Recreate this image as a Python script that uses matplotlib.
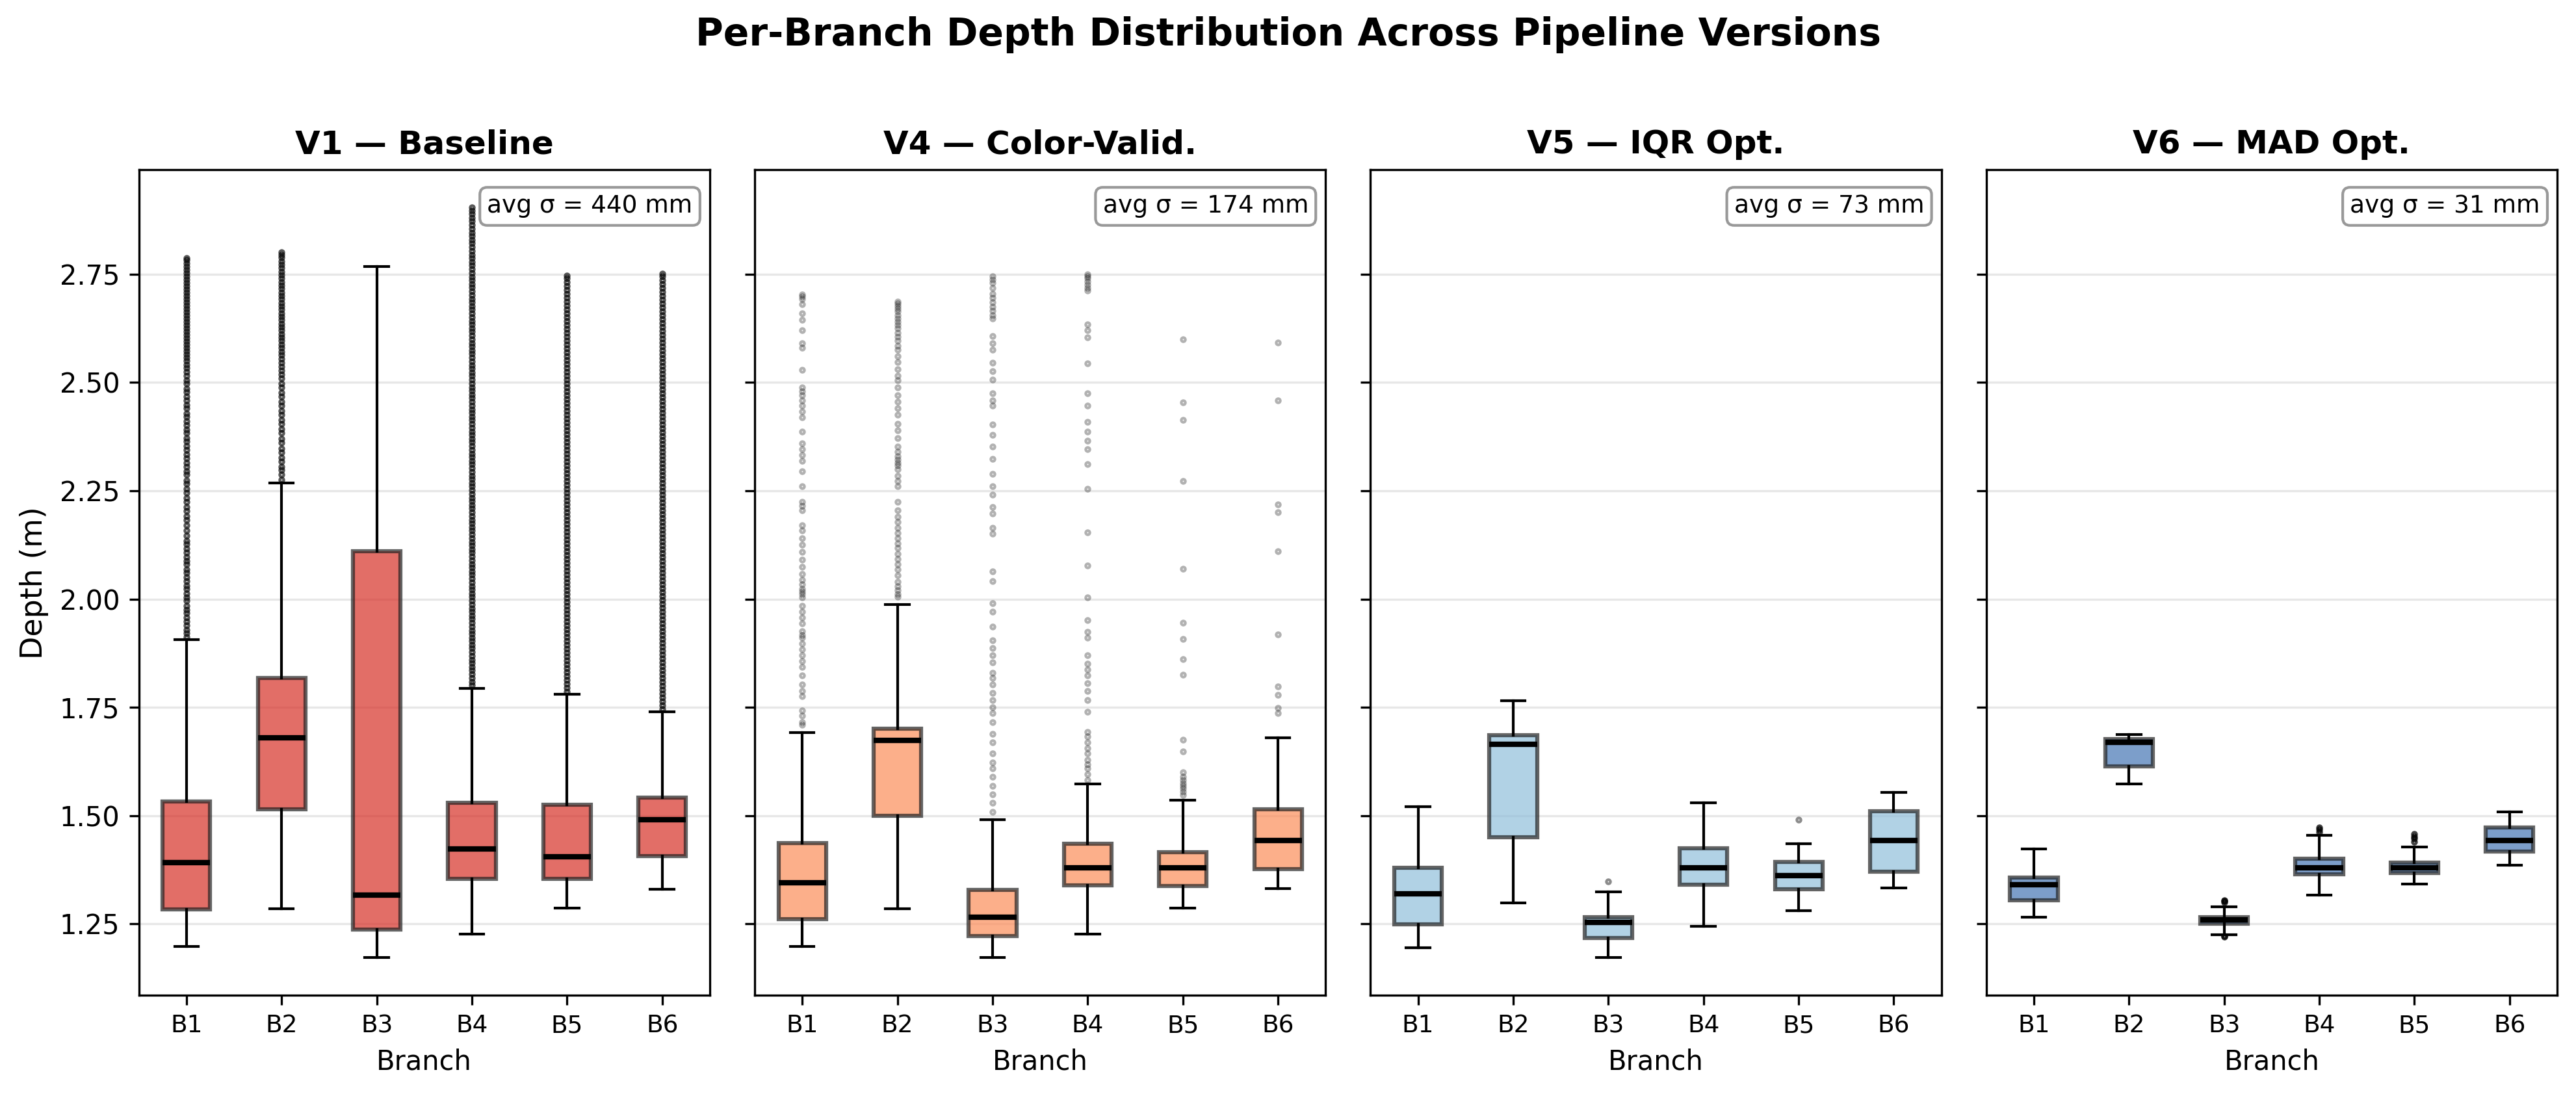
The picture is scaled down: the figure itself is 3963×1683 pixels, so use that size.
import matplotlib
matplotlib.use("Agg")
import matplotlib.pyplot as plt

# ---------------- data ----------------
branches = ["B1", "B2", "B3", "B4", "B5", "B6"]
versions = ["V1 — Baseline", "V4 — Color-Valid.", "V5 — IQR Opt.", "V6 — MAD Opt."]
avg_sigma_mm = [440, 174, 73, 31]
colors = ["#d73027", "#fc8d59", "#91bfdb", "#4575b4"]

# per version: lists over branches B1..B6
v1_whislo = [1.198, 1.285, 1.172, 1.227, 1.286, 1.330]
v1_q1     = [1.283, 1.515, 1.237, 1.354, 1.354, 1.407]
v1_med    = [1.391, 1.680, 1.317, 1.423, 1.405, 1.490]
v1_q3     = [1.533, 1.817, 2.110, 1.530, 1.525, 1.541]
v1_whishi = [1.906, 2.268, 2.767, 1.794, 1.780, 1.740]

v4_whislo = [1.198, 1.285, 1.172, 1.227, 1.286, 1.332]
v4_q1     = [1.261, 1.500, 1.222, 1.339, 1.337, 1.377]
v4_med    = [1.345, 1.673, 1.265, 1.379, 1.379, 1.443]
v4_q3     = [1.436, 1.700, 1.328, 1.435, 1.415, 1.514]
v4_whishi = [1.691, 1.988, 1.490, 1.573, 1.535, 1.679]

v5_whislo = [1.195, 1.298, 1.172, 1.245, 1.281, 1.333]
v5_q1     = [1.249, 1.450, 1.218, 1.341, 1.330, 1.371]
v5_med    = [1.320, 1.665, 1.254, 1.379, 1.362, 1.443]
v5_q3     = [1.380, 1.686, 1.265, 1.424, 1.393, 1.510]
v5_whishi = [1.521, 1.765, 1.324, 1.529, 1.435, 1.553]

v6_whislo = [1.265, 1.573, 1.225, 1.317, 1.342, 1.386]
v6_q1     = [1.304, 1.613, 1.250, 1.364, 1.367, 1.417]
v6_med    = [1.340, 1.669, 1.259, 1.379, 1.379, 1.443]
v6_q3     = [1.357, 1.676, 1.265, 1.400, 1.391, 1.472]
v6_whishi = [1.423, 1.687, 1.290, 1.455, 1.427, 1.508]

# outliers
v1_fliers_b1 = [1.912,1.921,1.929,1.940,1.948,1.957,1.968,1.976,1.985,1.996,2.004,2.013,2.024,2.031,2.042,2.050,2.061,2.069,2.080,2.088,2.097,2.108,2.116,2.127,2.135,2.146,2.158,2.171,2.183,2.192,2.204,2.213,2.225,2.234,2.246,2.255,2.266,2.274,2.287,2.295,2.306,2.314,2.325,2.334,2.345,2.353,2.364,2.372,2.383,2.391,2.402,2.410,2.421,2.429,2.440,2.448,2.459,2.467,2.478,2.486,2.497,2.505,2.516,2.524,2.533,2.541,2.550,2.557,2.565,2.572,2.580,2.587,2.595,2.602,2.610,2.617,2.625,2.632,2.640,2.647,2.655,2.662,2.670,2.677,2.685,2.692,2.700,2.707,2.715,2.722,2.730,2.737,2.745,2.752,2.760,2.767,2.775,2.782,2.787]
v1_fliers_b2 = [2.276,2.287,2.298,2.306,2.318,2.327,2.339,2.348,2.361,2.370,2.383,2.392,2.404,2.413,2.425,2.434,2.446,2.455,2.467,2.476,2.488,2.497,2.509,2.518,2.528,2.537,2.546,2.555,2.563,2.571,2.580,2.588,2.596,2.604,2.612,2.620,2.628,2.636,2.644,2.652,2.660,2.668,2.676,2.684,2.692,2.700,2.708,2.716,2.724,2.732,2.740,2.748,2.756,2.764,2.772,2.780,2.788,2.795,2.800]
v1_fliers_b3 = []
v1_fliers_b4 = [1.801,1.809,1.818,1.826,1.835,1.843,1.852,1.860,1.869,1.877,1.886,1.894,1.903,1.911,1.920,1.928,1.937,1.945,1.954,1.962,1.971,1.979,1.988,1.996,2.005,2.013,2.022,2.030,2.039,2.047,2.056,2.064,2.073,2.081,2.090,2.098,2.107,2.115,2.124,2.132,2.141,2.149,2.158,2.166,2.175,2.183,2.192,2.200,2.209,2.217,2.226,2.234,2.243,2.251,2.260,2.268,2.277,2.285,2.294,2.302,2.311,2.319,2.328,2.336,2.345,2.353,2.362,2.370,2.379,2.387,2.396,2.404,2.413,2.421,2.430,2.438,2.447,2.455,2.464,2.472,2.481,2.489,2.498,2.506,2.515,2.523,2.532,2.540,2.549,2.557,2.566,2.574,2.583,2.591,2.600,2.608,2.617,2.625,2.634,2.642,2.651,2.659,2.668,2.676,2.685,2.693,2.702,2.710,2.719,2.727,2.736,2.744,2.753,2.761,2.770,2.778,2.787,2.795,2.804,2.812,2.821,2.829,2.838,2.846,2.855,2.863,2.872,2.880,2.889,2.897,2.904]
v1_fliers_b5 = [1.786,1.795,1.804,1.813,1.822,1.831,1.840,1.849,1.858,1.867,1.876,1.885,1.894,1.903,1.912,1.921,1.930,1.939,1.948,1.957,1.966,1.975,1.984,1.993,2.002,2.011,2.020,2.029,2.038,2.047,2.056,2.065,2.074,2.083,2.092,2.101,2.110,2.119,2.128,2.137,2.146,2.155,2.164,2.173,2.182,2.191,2.200,2.209,2.218,2.227,2.236,2.245,2.254,2.263,2.272,2.281,2.290,2.299,2.308,2.317,2.326,2.335,2.344,2.353,2.362,2.371,2.380,2.389,2.398,2.407,2.416,2.425,2.434,2.443,2.452,2.461,2.470,2.479,2.488,2.497,2.506,2.515,2.524,2.533,2.542,2.551,2.560,2.569,2.578,2.587,2.596,2.605,2.614,2.623,2.632,2.641,2.650,2.659,2.668,2.677,2.686,2.695,2.704,2.713,2.722,2.731,2.740,2.747]
v1_fliers_b6 = [1.746,1.755,1.764,1.773,1.782,1.791,1.800,1.809,1.818,1.827,1.836,1.845,1.854,1.863,1.872,1.881,1.890,1.899,1.908,1.917,1.926,1.935,1.944,1.953,1.962,1.971,1.980,1.989,1.998,2.007,2.016,2.025,2.034,2.043,2.052,2.061,2.070,2.079,2.088,2.097,2.106,2.115,2.124,2.133,2.142,2.151,2.160,2.169,2.178,2.187,2.196,2.205,2.214,2.223,2.232,2.241,2.250,2.259,2.268,2.277,2.286,2.295,2.304,2.313,2.322,2.331,2.340,2.349,2.358,2.367,2.376,2.385,2.394,2.403,2.412,2.421,2.430,2.439,2.448,2.457,2.466,2.475,2.484,2.493,2.502,2.511,2.520,2.529,2.538,2.547,2.556,2.565,2.574,2.583,2.592,2.601,2.610,2.619,2.628,2.637,2.646,2.655,2.664,2.673,2.682,2.691,2.700,2.709,2.718,2.727,2.736,2.745,2.751]

v4_fliers_b1 = [2.703,2.698,2.692,2.680,2.660,2.644,2.620,2.591,2.580,2.529,2.489,2.479,2.470,2.459,2.446,2.433,2.419,2.386,2.359,2.346,2.332,2.319,2.295,2.261,2.225,2.216,2.205,2.171,2.158,2.141,2.125,2.109,2.091,2.074,2.058,2.044,2.034,2.024,2.017,2.011,2.004,1.984,1.971,1.957,1.944,1.926,1.917,1.910,1.897,1.884,1.870,1.857,1.843,1.823,1.803,1.787,1.776,1.743,1.730,1.716,1.709]
v4_fliers_b2 = [2.687,2.682,2.676,2.670,2.664,2.655,2.648,2.640,2.632,2.625,2.615,2.605,2.596,2.585,2.575,2.560,2.547,2.530,2.515,2.505,2.488,2.470,2.455,2.440,2.425,2.405,2.390,2.372,2.352,2.340,2.330,2.322,2.315,2.308,2.300,2.285,2.272,2.260,2.225,2.205,2.190,2.178,2.165,2.152,2.140,2.128,2.118,2.105,2.092,2.080,2.068,2.055,2.040,2.030,2.020,2.012,2.005]
v4_fliers_b3 = [2.745,2.738,2.730,2.718,2.705,2.695,2.685,2.675,2.665,2.655,2.648,2.607,2.590,2.575,2.546,2.526,2.506,2.475,2.459,2.446,2.403,2.379,2.352,2.323,2.289,2.261,2.241,2.212,2.198,2.165,2.151,2.064,2.042,1.991,1.971,1.937,1.904,1.886,1.870,1.854,1.830,1.817,1.803,1.783,1.766,1.750,1.736,1.716,1.689,1.669,1.643,1.622,1.609,1.589,1.569,1.549,1.529,1.508]
v4_fliers_b4 = [2.750,2.745,2.740,2.733,2.726,2.718,2.712,2.634,2.620,2.604,2.544,2.475,2.446,2.409,2.386,2.366,2.346,2.312,2.254,2.154,2.078,2.004,1.951,1.924,1.910,1.870,1.850,1.837,1.823,1.806,1.787,1.766,1.739,1.693,1.683,1.669,1.656,1.643,1.629,1.618,1.609,1.596,1.582]
v4_fliers_b5 = [1.600,1.590,1.582,1.575,1.568,1.562,1.555,1.548,1.648,1.675,1.825,1.861,1.908,1.946,2.070,2.273,2.413,2.454,2.600]
v4_fliers_b6 = [1.736,1.748,1.779,1.798,1.918,2.110,2.200,2.218,2.459,2.592]

v5_fliers = [[], [], [1.348], [], [1.491], []]
v6_fliers = [[], [], [1.300, 1.303, 1.305, 1.222, 1.220], [1.462, 1.468, 1.473],
             [1.440, 1.447, 1.452, 1.457], []]

v1_fliers = [v1_fliers_b1, v1_fliers_b2, v1_fliers_b3, v1_fliers_b4, v1_fliers_b5, v1_fliers_b6]
v4_fliers = [v4_fliers_b1, v4_fliers_b2, v4_fliers_b3, v4_fliers_b4, v4_fliers_b5, v4_fliers_b6]

all_stats = [
    (v1_whislo, v1_q1, v1_med, v1_q3, v1_whishi, v1_fliers),
    (v4_whislo, v4_q1, v4_med, v4_q3, v4_whishi, v4_fliers),
    (v5_whislo, v5_q1, v5_med, v5_q3, v5_whishi, v5_fliers),
    (v6_whislo, v6_q1, v6_med, v6_q3, v6_whishi, v6_fliers),
]

# visual density of the outlier marks (the original had many overlapping points)
flier_alpha = [0.65, 0.3, 0.45, 0.75]

# ---------------- plot ----------------
W, H = 3963 / 300, 1683 / 300
fig, axes = plt.subplots(1, 4, figsize=(W, H), dpi=300, sharey=True)
fig.subplots_adjust(left=0.0539, right=0.9927, top=0.8447, bottom=0.0903, wspace=0.0786)

for ax, name, sig, col, st, fa in zip(axes, versions, avg_sigma_mm, colors, all_stats, flier_alpha):
    wlo, q1, med, q3, whi, fl = st
    stats = []
    for i, b in enumerate(branches):
        stats.append(dict(label=b, whislo=wlo[i], q1=q1[i], med=med[i],
                          q3=q3[i], whishi=whi[i], fliers=fl[i]))
    bp = ax.bxp(stats, positions=range(1, 7), widths=0.5, patch_artist=True,
                showfliers=True,
                medianprops=dict(color="black", linewidth=2),
                whiskerprops=dict(color="black", linewidth=1),
                capprops=dict(color="black", linewidth=1),
                flierprops=dict(marker="o", markersize=1.5, markerfacecolor="none",
                                markeredgecolor="black", alpha=fa, linestyle="none"))
    for patch in bp["boxes"]:
        patch.set_facecolor(col)
        patch.set_edgecolor("#222222")
        patch.set_linewidth(1.5)
        patch.set_alpha(0.7)
    ax.set_title(name, fontsize=12, fontweight="bold")
    ax.set_xlabel("Branch", fontsize=10)
    ax.tick_params(axis="x", labelsize=9)
    ax.tick_params(axis="y", labelsize=10)
    ax.yaxis.grid(True, alpha=0.3)
    ax.set_axisbelow(True)
    ax.text(0.97, 0.97, f"avg σ = {sig} mm", transform=ax.transAxes,
            ha="right", va="top", fontsize=9,
            bbox=dict(boxstyle="round,pad=0.3", facecolor="white",
                      edgecolor="gray", alpha=0.8))

axes[0].set_ylabel("Depth (m)", fontsize=11)
fig.suptitle("Per-Branch Depth Distribution Across Pipeline Versions",
             fontsize=14, fontweight="bold", y=0.985)

fig.savefig("out.png", dpi=300)
